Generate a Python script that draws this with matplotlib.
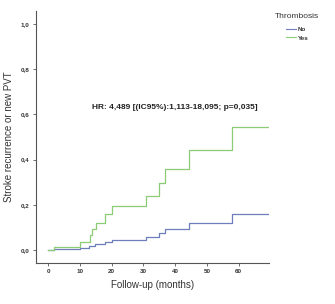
import matplotlib.pyplot as plt
from matplotlib.lines import Line2D

# Kaplan-Meier style cumulative incidence (step points)
yes_t = [0, 2, 10, 13.2, 13.9, 15, 17.9, 20, 30.8, 35, 36.9, 44.2, 58, 69.5]
yes_y = [0, 0.013, 0.037, 0.066, 0.093, 0.121, 0.161, 0.195, 0.240, 0.298, 0.357, 0.442, 0.543, 0.543]

no_t = [0, 2, 10, 13.0, 14.7, 18, 20, 30.8, 35, 36.8, 44.3, 58, 69.5]
no_y = [0, 0.004, 0.009, 0.019, 0.027, 0.036, 0.044, 0.059, 0.074, 0.092, 0.122, 0.159, 0.159]

xticks = [0, 10, 20, 30, 40, 50, 60]
yticks = [0.0, 0.2, 0.4, 0.6, 0.8, 1.0]
ytick_labels = ['0,0', '0,2', '0,4', '0,6', '0,8', '1,0']

blue = '#6e7dbd'
green = '#8ccc74'

plt.rcParams['font.family'] = ['Liberation Sans', 'DejaVu Sans']

fig = plt.figure(figsize=(3.35, 3.04), dpi=100)
ax = fig.add_axes([36/335, 41/304, 233/335, 252/304])

ax.step(no_t, no_y, where='post', color=blue, lw=0.9)
ax.step(yes_t, yes_y, where='post', color=green, lw=0.9)

ax.set_xlim(-3.8, 69.5)
ax.set_ylim(-0.057, 1.057)

for s in ['top', 'right']:
    ax.spines[s].set_visible(False)
for s in ['left', 'bottom']:
    ax.spines[s].set_color('#555555')
    ax.spines[s].set_linewidth(0.8)

ax.set_xticks(xticks)
ax.set_xticklabels([str(v) for v in xticks])
ax.set_yticks(yticks)
ax.set_yticklabels(ytick_labels)
ax.tick_params(axis='both', length=2.5, width=0.6, color='#555555',
               labelsize=4.5, pad=2, labelcolor='#333333')
for lab in ax.get_xticklabels() + ax.get_yticklabels():
    lab.set_fontweight('bold')

ax.set_xlabel('Follow-up (months)', fontsize=7, color='#333333', labelpad=4)
ax.set_ylabel('Stroke recurrence or new PVT', fontsize=7, color='#333333', labelpad=5)

ax.text(13.7, 0.63, 'HR: 4,489 [(IC95%):1,113-18,095; p=0,035]', fontsize=6,
        fontweight='bold', color='#222222', va='center', ha='left')

handles = [Line2D([], [], color=blue, lw=0.8), Line2D([], [], color=green, lw=0.8)]
leg = fig.legend(handles, ['No', 'Yes'], title='Thrombosis', loc='upper center',
                 bbox_to_anchor=(297/335, 1 - 13/304), frameon=False,
                 fontsize=4.5, title_fontsize=6, handlelength=1.6,
                 handletextpad=0.3, labelspacing=0.45, borderaxespad=0,
                 borderpad=0)
leg._legend_box.sep = 5
for t in leg.get_texts():
    t.set_fontweight('bold')
    t.set_color('#333333')
leg.get_title().set_color('#333333')

fig.savefig('out.png', dpi=100)
